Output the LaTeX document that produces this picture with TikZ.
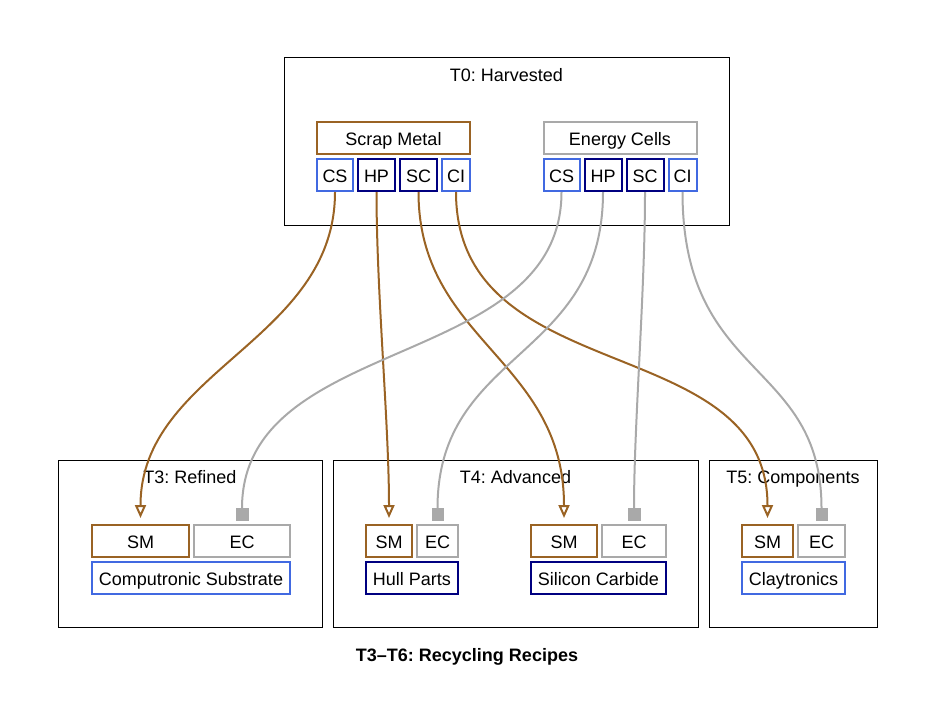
\documentclass[tikz,border=0pt]{standalone}
\usepackage{fontspec}
\setmainfont{Liberation Sans}
\usepackage{tikz}
\usetikzlibrary{arrows.meta, positioning}
\definecolor{scrapbrown}{HTML}{9A6324}
\definecolor{cellgray}{HTML}{A9A9A9}
\definecolor{tierblue}{HTML}{4169E1}
\definecolor{tiernavy}{HTML}{000080}
\frenchspacing
\tikzset{
    cell/.style={
        rectangle,
        draw,
        line width=2pt,
        inner sep=0pt,
        minimum height=32pt,
        text height=15pt,
        text depth=0pt,
        font=\fontsize{18}{21}\selectfont
    },
    smcell/.style={cell, draw=scrapbrown},
    eccell/.style={cell, draw=cellgray},
    bluecell/.style={cell, draw=tierblue},
    navycell/.style={cell, draw=tiernavy},
    cluster/.style={
        rectangle,
        draw=black,
        line width=1pt,
        inner sep=0pt,
        minimum height=167pt
    },
    clusterlabel/.style={
        inner sep=0pt,
        text height=13pt,
        text depth=0pt,
        font=\fontsize{18}{21}\selectfont
    },
    smwire/.style={
        draw=scrapbrown,
        line width=2pt,
        -{Triangle[open, length=13pt, width=11pt]},
        shorten >=6pt
    },
    ecwire/.style={
        draw=cellgray,
        line width=2pt,
        -{Square[length=12pt, width=12pt, line width=0.5pt]},
        shorten >=4pt
    }
}
\begin{document}
\begin{tikzpicture}[x=1pt, y=-1pt]
\useasboundingbox (0,0) rectangle (936,717);

% tiers
\node[cluster, minimum width=445pt] (t0) at (506.5,141.5) {};
\node[clusterlabel, below=10.5pt of t0.north] {T0: Harvested};
\node[cluster, minimum width=264pt] (t3) at (190,544) {};
\node[clusterlabel, below=10.5pt of t3.north] {T3: Refined};
\node[cluster, minimum width=365pt] (t4) at (515.5,544) {};
\node[clusterlabel, below=10.5pt of t4.north] {T4: Advanced};
\node[cluster, minimum width=168pt] (t5) at (793,544) {};
\node[clusterlabel, below=10.5pt of t5.north] {T5: Components};

% harvested materials
\node[smcell, minimum width=153pt] (scrap) at (393.5,138) {Scrap Metal};
\node[bluecell, minimum width=36pt, below right=3pt and 0pt of scrap.south west] (scrapcs) {CS};
\node[navycell, minimum width=37pt, right=3pt of scrapcs] (scraphp) {HP};
\node[navycell, minimum width=37pt, right=3pt of scraphp] (scrapsc) {SC};
\node[bluecell, minimum width=28pt, right=3pt of scrapsc] (scrapci) {CI};

\node[eccell, minimum width=153pt] (cells) at (620,138) {Energy Cells};
\node[bluecell, minimum width=36pt, below right=3pt and 0pt of cells.south west] (cellscs) {CS};
\node[navycell, minimum width=37pt, right=3pt of cellscs] (cellshp) {HP};
\node[navycell, minimum width=37pt, right=3pt of cellshp] (cellssc) {SC};
\node[bluecell, minimum width=28pt, right=3pt of cellssc] (cellsci) {CI};

% recipes
\node[smcell, minimum width=97pt, anchor=north west] (csm) at (91,524) {SM};
\node[eccell, minimum width=96pt, right=3pt of csm] (cec) {EC};
\node[bluecell, minimum width=198pt, below right=3pt and 0pt of csm.south west] (comp) {Computronic Substrate};

\node[smcell, minimum width=46pt, anchor=north west] (hsm) at (365,524) {SM};
\node[eccell, minimum width=41pt, right=3pt of hsm] (hec) {EC};
\node[navycell, minimum width=92pt, below right=3pt and 0pt of hsm.south west] (hull) {Hull Parts};

\node[smcell, minimum width=66pt, anchor=north west] (ssm) at (530,524) {SM};
\node[eccell, minimum width=64pt, right=3pt of ssm] (sec) {EC};
\node[navycell, minimum width=135pt, below right=3pt and 0pt of ssm.south west] (sic) {Silicon Carbide};

\node[smcell, minimum width=51pt, anchor=north west] (ysm) at (741,524) {SM};
\node[eccell, minimum width=47pt, right=3pt of ysm] (yec) {EC};
\node[bluecell, minimum width=103pt, below right=3pt and 0pt of ysm.south west] (clay) {Claytronics};

\node[font=\fontsize{18}{21}\selectfont\bfseries, anchor=base] (caption) at (467,661) {T3--T6: Recycling Recipes};

% scrap metal
\draw[smwire] (scrapcs.south) .. controls +(0,149) and +(0,-154) .. (csm.north);
\draw[smwire] (scraphp.south) .. controls +(0,100) and +(0,-100) .. (hsm.north);
\draw[smwire] (scrapsc.south) .. controls +(0,149) and +(0,-165) .. (ssm.north);
\draw[smwire] (scrapci.south) .. controls +(0,199) and +(0,-195) .. (ysm.north);

% energy cells
\draw[ecwire] (cellscs.south) .. controls +(0,179) and +(0,-191) .. (cec.north);
\draw[ecwire] (cellshp.south) .. controls +(0,169) and +(0,-175) .. (hec.north);
\draw[ecwire] (cellssc.south) .. controls +(0,100) and +(0,-100) .. (sec.north);
\draw[ecwire] (cellsci.south) .. controls +(0,189) and +(0,-165) .. (yec.north);

\end{tikzpicture}
\end{document}
